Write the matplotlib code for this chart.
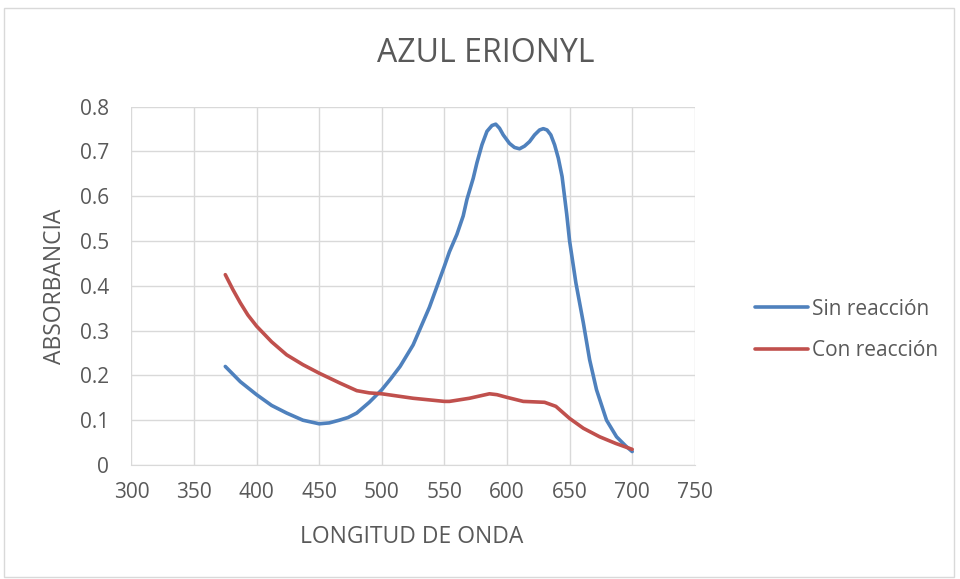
import matplotlib
matplotlib.use("Agg")
import matplotlib.pyplot as plt
from matplotlib.patches import Rectangle

# Data
wl_sin = [375, 387, 400, 412, 424, 437, 450, 458, 466, 473, 480, 490, 500, 507, 514.6, 525, 538, 550, 554,
          560, 565, 568, 573, 576, 580, 584, 588, 591, 594, 597, 602, 606, 610, 614, 618, 622, 626, 629, 632,
          635, 638, 641, 644, 647.7, 650, 655, 661, 666, 671.5, 679.5, 687.5, 695, 700]
abs_sin = [0.220, 0.186, 0.157, 0.133, 0.116, 0.100, 0.092, 0.094, 0.100, 0.106, 0.116, 0.140, 0.168, 0.192,
           0.220, 0.268, 0.352, 0.444, 0.476, 0.515, 0.556, 0.593, 0.640, 0.675, 0.715, 0.745, 0.758, 0.761,
           0.752, 0.737, 0.718, 0.709, 0.706, 0.712, 0.722, 0.737, 0.748, 0.751, 0.748, 0.737, 0.715, 0.685,
           0.644, 0.560, 0.500, 0.407, 0.317, 0.235, 0.168, 0.100, 0.063, 0.042, 0.030]

wl_con = [375, 381, 387, 393, 400, 412, 424, 437, 450, 466.5, 480, 490, 500, 525, 550, 554, 570, 586, 592,
          600, 613, 630, 639, 650, 661, 674, 687, 700]
abs_con = [0.425, 0.392, 0.362, 0.335, 0.310, 0.275, 0.246, 0.224, 0.205, 0.183, 0.166, 0.161, 0.159,
           0.149, 0.142, 0.142, 0.149, 0.159, 0.157, 0.151, 0.142, 0.140, 0.131, 0.104, 0.082, 0.063,
           0.048, 0.035]

series = [("Sin reacción", wl_sin, abs_sin, "#4F81BD"),
          ("Con reacción", wl_con, abs_con, "#C0504D")]

title = "AZUL ERIONYL"
xlabel = "LONGITUD DE ONDA"
ylabel = "ABSORBANCIA"
xticks = [300, 350, 400, 450, 500, 550, 600, 650, 700, 750]
yticks = [0, 0.1, 0.2, 0.3, 0.4, 0.5, 0.6, 0.7, 0.8]

plt.rcParams['font.family'] = ['Open Sans', 'DejaVu Sans']
txt = "#595959"
W, H = 960, 579
fig = plt.figure(figsize=(W / 100, H / 100), dpi=100)
fig.patch.set_facecolor("white")
fig.patches.append(Rectangle((4 / W, 1 - 577 / H), 950 / W, 569 / H, transform=fig.transFigure,
                             fill=False, edgecolor="#d9d9d9", linewidth=1))

ax = fig.add_axes([131.4 / W, 1 - 465 / H, (694.8 - 131.4) / W, (465 - 106.7) / H])
for name, x, y, c in series:
    ax.plot(x, y, color=c, linewidth=2.6, label=name, solid_capstyle="round", solid_joinstyle="round")

ax.set_xlim(300, 750)
ax.set_ylim(0, 0.8)
ax.set_xticks(xticks)
ax.set_yticks(yticks)
ax.set_xticklabels([str(v) for v in xticks])
ax.set_yticklabels(["0" if v == 0 else f"{v:.1f}" for v in yticks])
ax.grid(True, color="#d9d9d9", linewidth=1)
ax.set_axisbelow(True)
for s in ["top", "right", "left"]:
    ax.spines[s].set_visible(False)
ax.spines["bottom"].set_color("#d9d9d9")
ax.tick_params(axis="both", length=0, colors=txt, labelsize=15)
ax.tick_params(axis="y", pad=16)
ax.tick_params(axis="x", pad=12)

fig.text(486 / W, 1 - 54 / H, title, ha="center", va="center", fontsize=23, color=txt)
fig.text(412 / W, 1 - 537 / H, xlabel, ha="center", va="center", fontsize=16.5, color=txt)
fig.text(55 / W, 1 - 286 / H, ylabel, ha="center", va="center", rotation=90, fontsize=16.5, color=txt)

leg = fig.legend(loc="center left", bbox_to_anchor=(736 / W, 1 - 330 / H), frameon=False,
                 fontsize=15, handlelength=2.57, handletextpad=0.2, labelspacing=1.0, labelcolor=txt)

fig.savefig("out.png", dpi=100, facecolor="white")
